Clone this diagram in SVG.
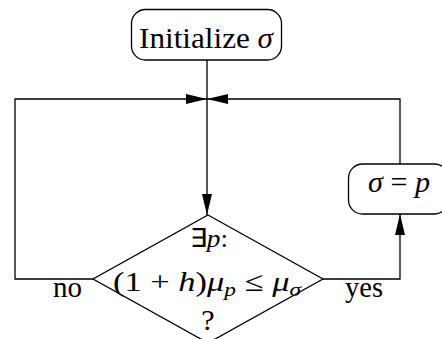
<svg xmlns="http://www.w3.org/2000/svg" width="442" height="339" viewBox="0 0 442 339">
<style>
.box{fill:#fff;stroke:#000;stroke-width:1.3}
.ln{fill:none;stroke:#000;stroke-width:1.3}
.t{font-family:"Liberation Serif","Times New Roman",serif;font-size:30px;fill:#000}
.d{font-size:26px}
.e{font-size:28px}
.m{font-style:italic}
.s{font-size:19px}
</style>
<defs>
<marker id="ah" viewBox="0 0 21 10" refX="21" refY="5" markerWidth="21" markerHeight="10" markerUnits="userSpaceOnUse" orient="auto">
<path d="M0,0 L21,5 L0,10 z" fill="#000"/>
</marker>
</defs>
<g id="connectors">
<line class="ln" x1="207" y1="60" x2="207" y2="215" marker-end="url(#ah)"/>
<polyline class="ln" points="93,279 15,279 15,99 207,99" marker-end="url(#ah)"/>
<polyline class="ln" points="400,164 400,99 207,99" marker-end="url(#ah)"/>
<polyline class="ln" points="323,279 400,279 400,214" marker-end="url(#ah)"/>
<text class="t" x="53" y="297" textLength="29" lengthAdjust="spacingAndGlyphs">no</text>
<text class="t" x="345" y="297" textLength="38" lengthAdjust="spacingAndGlyphs">yes</text>
</g>
<g id="init">
<rect class="box" x="131.5" y="9.5" width="150" height="50.5" rx="14"/>
<text class="t" x="139" y="47.5" textLength="134" lengthAdjust="spacingAndGlyphs">Initialize <tspan class="m">σ</tspan></text>
</g>
<g id="decision">
<polygon class="box" points="208,215 323,279 208,343 93,279"/>
<text class="t d" x="190" y="247" textLength="38" lengthAdjust="spacingAndGlyphs">∃<tspan class="m">p</tspan>:</text>
<text class="t e" x="113" y="291" textLength="188" lengthAdjust="spacingAndGlyphs">(1 + <tspan class="m">h</tspan>)<tspan class="m">μ</tspan><tspan class="m s" dy="5">p</tspan><tspan dy="-5"> ≤ </tspan><tspan class="m">μ</tspan><tspan class="m s" dy="5">σ</tspan></text>
<text class="t" x="208" y="330" text-anchor="middle">?</text>
</g>
<g id="assign">
<rect class="box" x="348.5" y="164" width="100" height="50" rx="14"/>
<text class="t" x="368" y="192" textLength="62" lengthAdjust="spacingAndGlyphs"><tspan class="m">σ</tspan> = <tspan class="m">p</tspan></text>
</g>
</svg>
